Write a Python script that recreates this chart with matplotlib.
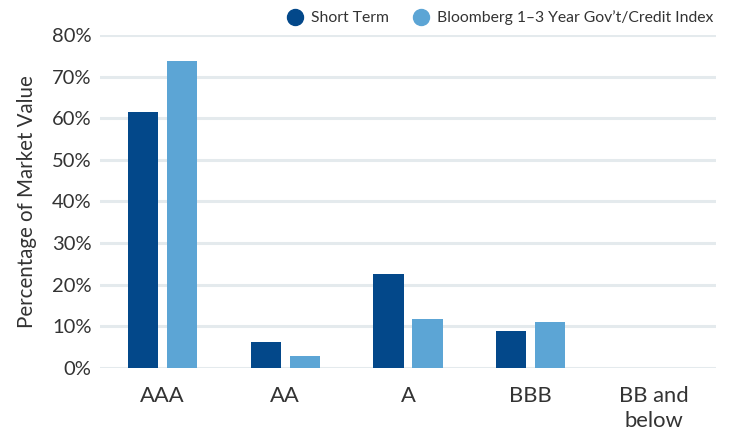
import matplotlib
matplotlib.use("Agg")
import matplotlib.pyplot as plt
from matplotlib.ticker import FuncFormatter
from matplotlib.lines import Line2D
import numpy as np

categories = ["AAA", "AA", "A", "BBB", "BB and\nbelow"]
short_term = [61.5, 6.2, 22.5, 8.8, 0.0]
bloomberg = [73.7, 2.8, 11.7, 11.0, 0.0]
series_names = ["Short Term", "Bloomberg 1\u20133 Year Gov\u2019t/Credit Index"]
yticks = [0, 10, 20, 30, 40, 50, 60, 70, 80]

plt.rcParams['font.family'] = ['Lato', 'DejaVu Sans']

dark = "#03488a"
light = "#5ca5d5"
grid_c = "#e4eaed"
text_c = "#333333"

fig = plt.figure(figsize=(7.30, 4.32), dpi=100)
ax = fig.add_axes([100/730, 64/432, (716-100)/730, (368-35)/432])

x = np.arange(len(categories))
w = 0.245
off = 0.159
ax.bar(x - off, short_term, width=w, color=dark, zorder=3)
ax.bar(x + off, bloomberg, width=w, color=light, zorder=3)

ax.set_xlim(-0.51, 4.51)
ax.set_ylim(0, 80)
ax.set_yticks(yticks)
ax.yaxis.set_major_formatter(FuncFormatter(lambda v, p: f"{v:.0f}%"))
ax.set_xticks(x)
ax.set_xticklabels(categories, fontsize=15.8, color=text_c, linespacing=1.3)
ax.tick_params(axis='y', labelsize=14.5, colors=text_c, length=0, pad=6)
ax.tick_params(axis='x', length=0, pad=13)
ax.grid(axis='y', color=grid_c, linewidth=2.2, zorder=0)
for s in ax.spines.values():
    s.set_visible(False)

ax.set_ylabel("Percentage of Market Value", fontsize=14.8, color=text_c, labelpad=11)

handles = [Line2D([], [], marker='o', linestyle='none', markersize=11.5, color=dark),
           Line2D([], [], marker='o', linestyle='none', markersize=11.5, color=light)]
fig.legend(handles, series_names, loc='center right', bbox_to_anchor=(713/730, 1 - 18/432),
           ncol=2, frameon=False, fontsize=11.3, handletextpad=0.42, columnspacing=1.44,
           handlelength=1.2, labelcolor=text_c, borderaxespad=0, borderpad=0)

fig.savefig("out.png", dpi=100)
